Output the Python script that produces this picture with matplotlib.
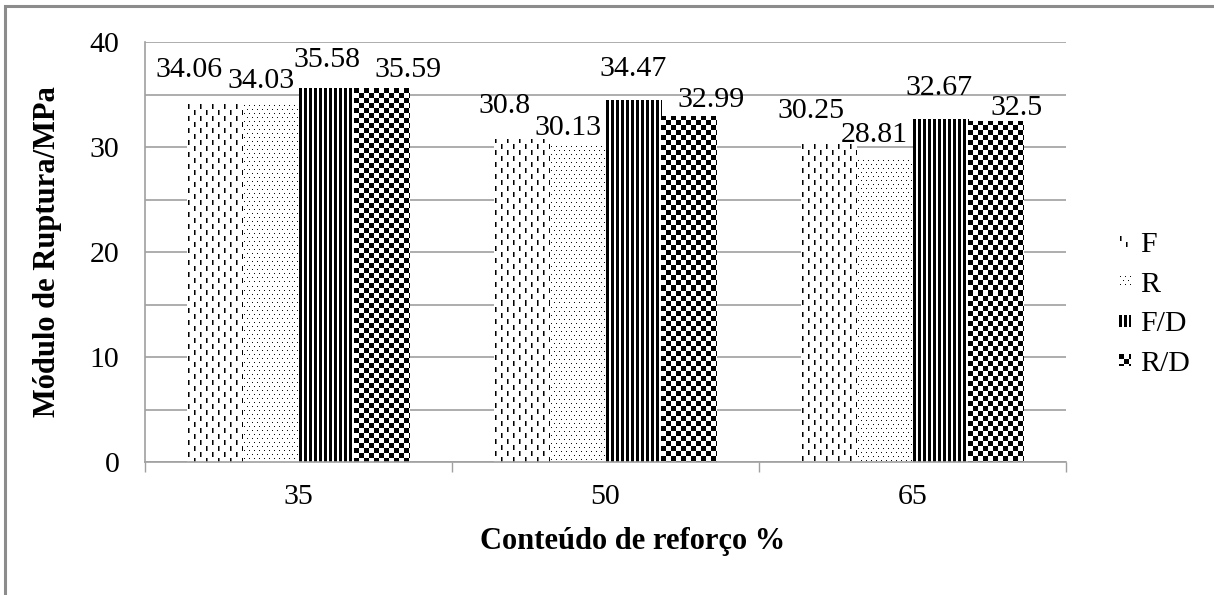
import numpy as np
import matplotlib
matplotlib.use("Agg")
import matplotlib.pyplot as plt
from matplotlib.patches import Rectangle
from matplotlib.image import BboxImage
from matplotlib.transforms import Bbox, TransformedBbox
from matplotlib.legend_handler import HandlerBase

plt.rcParams["font.family"] = "Liberation Serif"

categories = ["35", "50", "65"]
series = ["F", "R", "F/D", "R/D"]
F = [34.06, 30.8, 30.25]
R = [34.03, 30.13, 28.81]
FD = [35.58, 34.47, 32.67]
RD = [35.59, 32.99, 32.5]
values = [F, R, FD, RD]

# data label offsets (pixels from bar top centre), excel shuffled them around
label_offsets = [
	[(-26, 27), (-17, 26), (-18, 26)],
	[(-10, 17), (-10, 11), (-10, 17)],
	[(1, 21), (0, 24), (-1, 24)],
	[(26, 11), (22, 9), (20, 6)],
]

W, H, DPI = 1214, 595, 100
FONT = 21.5
TITLE_FONT = 22
GRAY = "#a0a0a0"


def pattern_dashes(h, w):
	y, x = np.mgrid[0:h, 0:w]
	img = np.ones((h, w))
	on = ((y + 6 * ((x // 6) % 2)) % 12) < 5
	img[(x % 6 == 1) & on] = 0
	img[(x % 6 == 2) & on] = 0.45
	return img


def pattern_dots(h, w):
	y, x = np.mgrid[0:h, 0:w]
	img = np.ones((h, w))
	img[(y % 4 == 1) & ((x + 2 * ((y // 4) % 2)) % 5 == 1)] = 0.05
	return img


def pattern_stripes(h, w):
	y, x = np.mgrid[0:h, 0:w]
	img = np.ones((h, w))
	img[(x % 5) < 3] = 0
	return img


def pattern_checker(h, w):
	y, x = np.mgrid[0:h, 0:w]
	img = np.ones((h, w))
	img[((x // 5) + (y // 5)) % 2 == 0] = 0
	return img


patterns = [pattern_dashes, pattern_dots, pattern_stripes, pattern_checker]


class PatternHandler(HandlerBase):
	def __init__(self, maker):
		super().__init__()
		self.maker = maker

	def create_artists(self, legend, orig_handle, xdescent, ydescent, width, height, fontsize, trans):
		side = min(width, height)
		box = Bbox.from_bounds(-xdescent + width - side, -ydescent + (height - side) / 2, side, side)
		img = BboxImage(TransformedBbox(box, trans), cmap="gray", interpolation="nearest")
		img.set_data(self.maker(12, 12))
		img.set_clim(0, 1)
		return [img]


fig = plt.figure(figsize=(W / DPI, H / DPI), dpi=DPI)
ax = fig.add_axes([145 / W, 1 - 462 / H, (1066 - 145) / W, (462 - 42) / H])
ax.set_xlim(-0.5, 2.5)
ax.set_ylim(0, 40)

bar_w = 1 / 5.5
x = np.arange(len(categories))
for i, (name, vals) in enumerate(zip(series, values)):
	pos = x + (i - 1.5) * bar_w
	bars = ax.bar(pos, vals, bar_w, color="none", edgecolor="none", label=name, zorder=2)
	for j, bar in enumerate(bars):
		x0, x1 = bar.get_x(), bar.get_x() + bar.get_width()
		(px0, py0), (px1, py1) = ax.transData.transform([(x0, 0), (x1, bar.get_height())])
		hp, wp = int(round(py1 - py0)), int(round(px1 - px0))
		im = ax.imshow(patterns[i](hp, wp), cmap="gray", vmin=0, vmax=1,
			extent=[x0, x1, 0, bar.get_height()], aspect="auto",
			interpolation="nearest", zorder=2)
		im.set_clip_path(bar)
		dx, dy = label_offsets[i][j]
		ax.annotate(str(vals[j]), xy=(pos[j], vals[j]), xytext=(dx, dy),
			textcoords="offset pixels", ha="center", va="baseline", fontsize=FONT)

ax.set_xlim(-0.5, 2.5)
ax.set_ylim(0, 40)

ax.set_axisbelow(True)
ax.set_yticks([0, 10, 20, 30, 40])
ax.set_yticks([5, 15, 25, 35], minor=True)
ax.grid(axis="y", which="both", color=GRAY, linewidth=1.2)
ax.tick_params(axis="y", which="both", length=0, pad=18.5, labelsize=FONT)

ax.set_xticks([-0.5, 0.5, 1.5, 2.5])
ax.set_xticklabels([])
ax.set_xticks(x, minor=True)
ax.set_xticklabels(categories, minor=True)
ax.tick_params(axis="x", which="major", length=7.5, width=1, color=GRAY)
ax.tick_params(axis="x", which="minor", length=0, pad=16, labelsize=FONT)

for side in ["top", "right"]:
	ax.spines[side].set_visible(False)
for side in ["left", "bottom"]:
	ax.spines[side].set_color(GRAY)
	ax.spines[side].set_linewidth(1.2)

ax.set_ylabel("Módulo de Ruptura/MPa", fontsize=TITLE_FONT, fontweight="bold", va="center")
ax.yaxis.set_label_coords((48 - 145) / 921, 0.5)
ax.set_xlabel("Conteúdo de reforço %", fontsize=TITLE_FONT, fontweight="bold", va="center")
ax.xaxis.set_label_coords((633 - 145) / 921, -(542 - 462) / 420)

handles = [Rectangle((0, 0), 1, 1) for _ in series]
ax.legend(handles, series, handler_map={h: PatternHandler(p) for h, p in zip(handles, patterns)},
	loc="center left", bbox_to_anchor=(1119 / W, 1 - 304 / H), bbox_transform=fig.transFigure,
	frameon=False, fontsize=FONT, borderpad=0, borderaxespad=0,
	handlelength=0.4, handleheight=0.7, handletextpad=0.3, labelspacing=0.42)

fig.patches.append(Rectangle((5 / W, -0.1), 1.2, 1.1 - 6 / H, transform=fig.transFigure,
	fill=False, edgecolor="#8c8c8c", linewidth=2.2))

fig.savefig("out.png", dpi=DPI)
